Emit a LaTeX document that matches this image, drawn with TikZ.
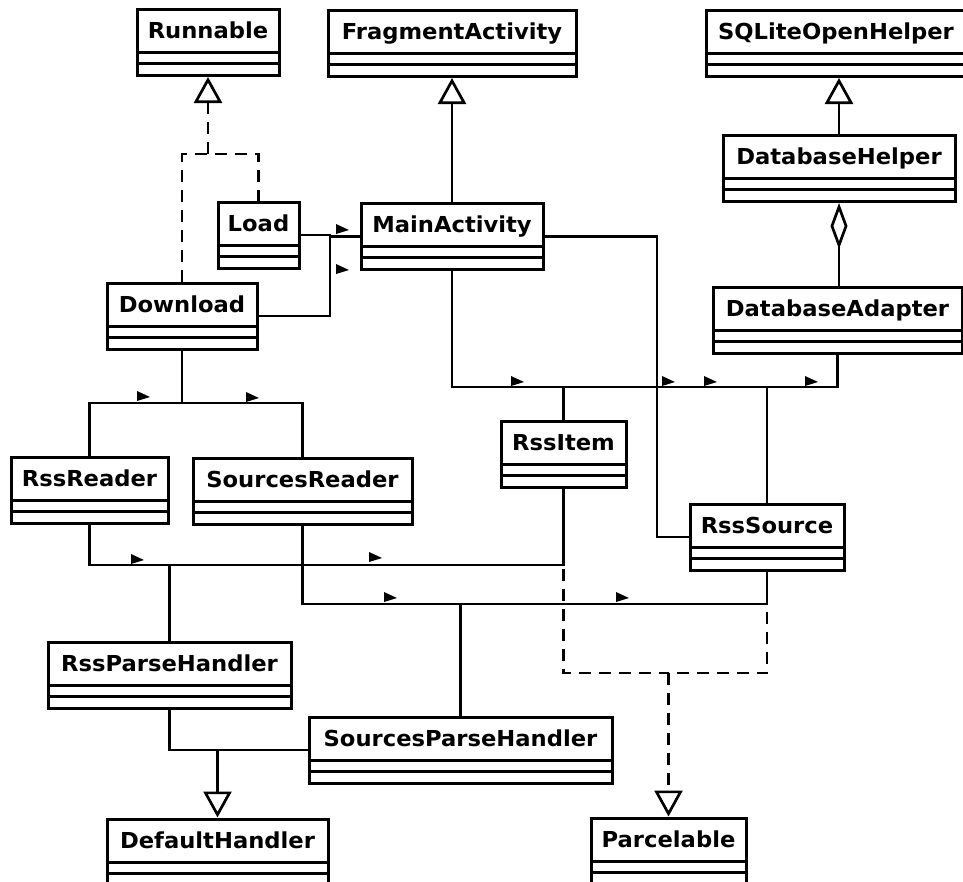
\documentclass[tikz,border=0pt]{standalone}
\usepackage{fontspec}
\newfontfamily\umlfont{DejaVu Sans}[FakeStretch=1.03]
\usetikzlibrary{arrows.meta}
\tikzset{
  cls/.style={draw, line width=3pt, fill=white, inner xsep=0pt, inner ysep=0pt,
    text height=29pt, text depth=37pt, minimum width=#1,
    font=\umlfont\bfseries\fontsize{22}{26}\selectfont,
    path picture={\draw[line width=3pt]
      ([yshift=23pt]path picture bounding box.south west) -- ([yshift=23pt]path picture bounding box.south east)
      ([yshift=12pt]path picture bounding box.south west) -- ([yshift=12pt]path picture bounding box.south east);}},
  conn/.style={line width=2.7pt, line join=miter},
  dashconn/.style={conn, dash pattern=on 12pt off 8pt},
  gen/.tip={Triangle[open, length=26pt, width=28pt, line width=2.7pt]},
  agg/.tip={Diamond[open, length=46pt, width=17pt, line width=2.7pt]},
  navtip/.pic={\fill (-6,-6) -- (7,0) -- (-6,4) -- cycle;}
}
\begin{document}
\begin{tikzpicture}[x=1pt, y=-1pt]
\useasboundingbox (0,0) rectangle (963,881);

% classes
\node[cls=142pt] (run)  at (208,42.5)   {Runnable};
\node[cls=248pt] (frag) at (452,43.5)   {FragmentActivity};
\node[cls=260pt] (sql)  at (836,43.5)   {SQLiteOpenHelper};
\node[cls=232pt] (dbh)  at (839,168.5)  {DatabaseHelper};
\node[cls=249pt] (dba)  at (837.5,320)  {DatabaseAdapter};
\node[cls=81pt]  (load) at (258.5,235)  {Load};
\node[cls=182pt] (main) at (452,236.5)  {MainActivity};
\node[cls=150pt] (down) at (182,316)    {Download};
\node[cls=157pt] (rssr) at (89.5,490)   {RssReader};
\node[cls=219pt] (srcr) at (302.5,491)  {SourcesReader};
\node[cls=125pt] (item) at (563.5,454)  {RssItem};
\node[cls=154pt] (rsrc) at (767,537)    {RssSource};
\node[cls=243pt] (rph)  at (169.5,675.5){RssParseHandler};
\node[cls=303pt] (sph)  at (460.5,750)  {SourcesParseHandler};
\node[cls=221pt] (def)  at (217.5,852)  {DefaultHandler};
\node[cls=155pt] (parc) at (668.5,851)  {Parcelable};

% junction points
\coordinate (rj)  at (208,154);
\coordinate (lm)  at (330,235);
\coordinate (busL) at (452,387);
\coordinate (mr)  at (657,537);
\coordinate (dj)  at (182,403);
\coordinate (rj2) at (169.5,565);
\coordinate (sj)  at (460.5,604);
\coordinate (pj)  at (668.5,673);

% realizations of Runnable
\draw[dashconn] (down.north) |- (rj) -| (load.north);
\draw[dashconn, -gen] (rj) -- (run.south);

% generalizations
\draw[conn, -gen] (main.north) -- (frag.south);
\draw[conn, -gen] (dbh.north) -- (dbh.north |- sql.south);

% aggregation
\draw[conn, agg-] (dbh.south) -- (dbh.south |- dba.north);

% associations to MainActivity
\draw[conn] (load.east) -- (lm) |- (main.west);
\draw[conn] (down.east) -| (lm);

% MainActivity / DatabaseAdapter to items and sources
\draw[conn] (main.south) -- (busL) -| (dba.south);
\draw[conn] (item.north) -- (item.north |- busL);
\draw[conn] (rsrc.north) -- (rsrc.north |- busL);
\draw[conn] (main.east) -| (mr) -- (rsrc.west);

% Download to readers
\draw[conn] (down.south) -- (dj);
\draw[conn] (rssr.north) |- (dj) -| (srcr.north);

% readers and models to parse handlers
\draw[conn] (rssr.south) |- (rj2) -- (rph.north);
\draw[conn] (item.south) |- (rj2);
\draw[conn] (srcr.south) |- (sj) -- (sph.north);
\draw[conn] (rsrc.south) |- (sj);

% realizations of Parcelable
\draw[dashconn] (item.south) |- (pj);
\draw[dashconn] (rsrc.south) |- (pj);
\draw[dashconn, -gen] (pj) -- (parc.north);

% handlers extend DefaultHandler
\draw[conn] (rph.south) |- (sph.west);
\draw[conn, -gen] (def.north |- sph.west) -- (def.north);

% navigability markers
\foreach \p in {(342,230),(342,270),(143,397),(252,398),(517,382),(668,382),(710,382),(811,382),(137,560),(375,558),(390,598),(622,598)}
  \pic at \p {navtip};
\end{tikzpicture}
\end{document}
